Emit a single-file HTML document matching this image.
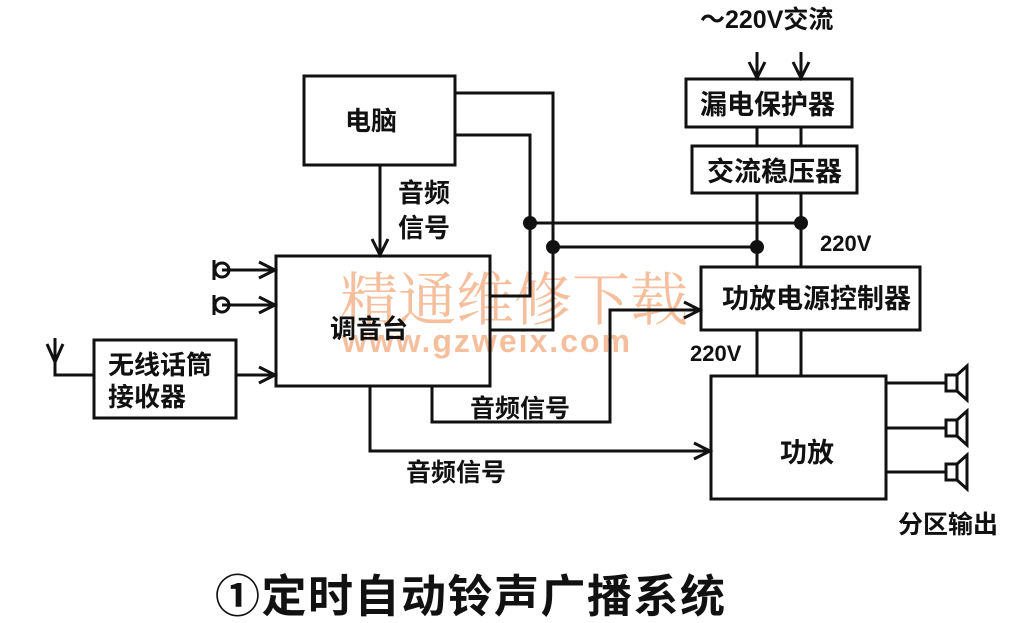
<!DOCTYPE html>
<html><head><meta charset="utf-8"><style>
html,body{margin:0;padding:0;background:#fff;width:1028px;height:623px;overflow:hidden}
svg text{font-family:"Liberation Sans","Noto Sans CJK SC",sans-serif;font-weight:bold;fill:#111}
</style></head><body>
<svg width="1028" height="623" viewBox="0 0 1028 623" xmlns="http://www.w3.org/2000/svg">
<defs><marker id="a" markerWidth="20" markerHeight="20" refX="17" refY="10" orient="auto" markerUnits="userSpaceOnUse"><path d="M1,2 L17,10 L1,18" fill="none" stroke="#111" stroke-width="3"/></marker></defs>
<text x="340" y="320" font-size="58" style="fill:#f4b48c;font-family:'Noto Serif CJK SC',serif;font-weight:normal" opacity="0.85">精通维修下载</text>
<text x="342" y="352" font-size="32" style="fill:#f4b48c" opacity="0.85" letter-spacing="2">www.gzweix.com</text>
<g fill="none" stroke="#111" stroke-width="3">
<rect x="304" y="76" width="151" height="89"/>
<rect x="276" y="256" width="214" height="130"/>
<rect x="94" y="340" width="142" height="78"/>
<rect x="686" y="79" width="166" height="48"/>
<rect x="692" y="146" width="165" height="47"/>
<rect x="701" y="267" width="219" height="63"/>
<rect x="711" y="376" width="175" height="123"/>
<polyline points="455,93 553,93 553,330 490,330"/>
<polyline points="455,135 530,135 530,296 490,296"/>
<line x1="530" y1="223" x2="801" y2="223"/>
<line x1="553" y1="247" x2="757" y2="247"/>
<line x1="757" y1="52" x2="757" y2="78" marker-end="url(#a)"/>
<line x1="801" y1="52" x2="801" y2="78" marker-end="url(#a)"/>
<line x1="757" y1="127" x2="757" y2="146"/><line x1="801" y1="127" x2="801" y2="146"/>
<line x1="757" y1="193" x2="757" y2="267"/><line x1="801" y1="193" x2="801" y2="267"/>
<line x1="757" y1="330" x2="757" y2="376"/><line x1="801" y1="330" x2="801" y2="376"/>
<line x1="380" y1="165" x2="380" y2="255" marker-end="url(#a)"/>
<line x1="222" y1="270" x2="275" y2="270" marker-end="url(#a)"/>
<line x1="222" y1="305" x2="275" y2="305" marker-end="url(#a)"/>
<line x1="236" y1="375" x2="275" y2="375" marker-end="url(#a)"/>
<polyline points="55,338 55,375 94,375"/>
<polyline points="432,386 432,422 610,422 610,310 700,310" marker-end="url(#a)"/>
<polyline points="370,386 370,451 710,451" marker-end="url(#a)"/>
<line x1="886" y1="383" x2="946" y2="383"/>
<line x1="886" y1="428" x2="946" y2="428"/>
<line x1="886" y1="472" x2="946" y2="472"/>
</g>
<g stroke="#111" stroke-width="3" fill="none">
<path d="M47,344 L55,362 L63,344"/>
<circle cx="222" cy="270" r="7"/><line x1="214" y1="260" x2="214" y2="280"/>
<circle cx="222" cy="305" r="7"/><line x1="214" y1="295" x2="214" y2="315"/>
<g id="sp"><rect x="946" y="375" width="11" height="16"/><path d="M957,375 L967,366 L967,400 L957,391"/></g>
<use href="#sp" y="45"/><use href="#sp" y="89"/>
</g>
<g fill="#111"><circle cx="530" cy="223" r="7"/><circle cx="553" cy="247" r="7"/><circle cx="801" cy="223" r="7"/><circle cx="757" cy="247" r="7"/></g>
<text x="345" y="130" font-size="26">电脑</text>
<text x="398" y="202" font-size="26">音频</text><text x="398" y="237" font-size="26">信号</text>
<text x="330" y="338" font-size="26">调音台</text>
<text x="108" y="374" font-size="26">无线话筒</text><text x="108" y="406" font-size="26">接收器</text>
<text x="700" y="114" font-size="27">漏电保护器</text>
<text x="707" y="181" font-size="27">交流稳压器</text>
<text x="722" y="308" font-size="27">功放电源控制器</text>
<text x="780" y="462" font-size="27">功放</text>
<text x="700" y="28" font-size="25">～220V交流</text>
<text x="820" y="251" font-size="22">220V</text>
<text x="690" y="361" font-size="22">220V</text>
<text x="470" y="417" font-size="25">音频信号</text>
<text x="406" y="481" font-size="25">音频信号</text>
<text x="898" y="533" font-size="25">分区输出</text>
<text x="215" y="612" font-size="45" letter-spacing="1.5">①定时自动铃声广播系统</text>
</svg>
</body></html>
